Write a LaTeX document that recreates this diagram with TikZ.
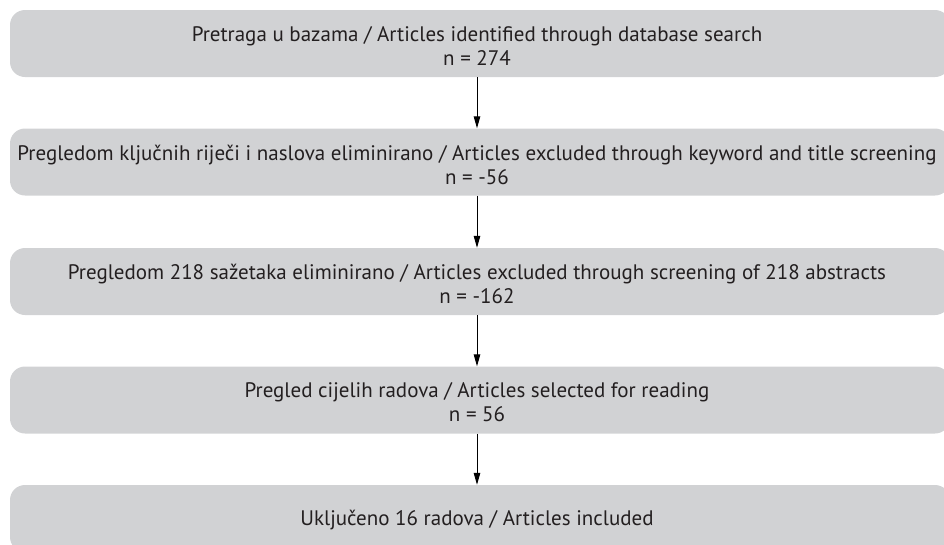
\documentclass[tikz,border=0pt]{standalone}
\usepackage{fontspec}
\setmainfont{PT Sans}
\usetikzlibrary{arrows.meta}
\definecolor{boxgray}{HTML}{D1D2D4}
\definecolor{txtdark}{HTML}{231F20}
\begin{document}
\begin{tikzpicture}[x=1pt,y=-1pt,
  flowbox/.style={fill=boxgray, rounded corners=15pt, minimum width=940pt, minimum height=67pt,
    inner sep=0pt},
  flowtext/.style={inner sep=0pt, align=center, text=txtdark, font=\fontsize{21}{24}\selectfont, yshift=-2.5pt},
  flowarrow/.style={draw=black, line width=1pt, -{Triangle[length=12pt,width=6.5pt]}}]
\useasboundingbox (0,0) rectangle (944,544);
\clip (0,0) rectangle (944,544);
\node[flowbox] (b1) at (480,43.5) {};
\node[flowbox] (b2) at (480,162) {};
\node[flowbox] (b3) at (480,281.5) {};
\node[flowbox] (b4) at (480,400) {};
\node[flowbox] (b5) at (480,518.5) {};
\node[flowtext] (t1) at (477,43.5) {Pretraga u bazama / Articles identified through database search\\n = 274};
\node[flowtext] (t2) at (477,162) {Pregledom ključnih riječi i naslova eliminirano / Articles excluded through keyword and title screening\\n = -56};
\node[flowtext] (t3) at (477,281.5) {Pregledom 218 sažetaka eliminirano / Articles excluded through screening of 218 abstracts\\n = -162};
\node[flowtext] (t4) at (477,400) {Pregled cijelih radova / Articles selected for reading\\n = 56};
\node[flowtext, yshift=1pt] (t5) at (477,518.5) {Uključeno 16 radova / Articles included};
\draw[flowarrow] (b1.south -| 477,0) -- (b2.north -| 477,0);
\draw[flowarrow] (b2.south -| 477,0) -- (b3.north -| 477,0);
\draw[flowarrow] (b3.south -| 477,0) -- (b4.north -| 477,0);
\draw[flowarrow] (b4.south -| 477,0) -- (b5.north -| 477,0);
\end{tikzpicture}
\end{document}
